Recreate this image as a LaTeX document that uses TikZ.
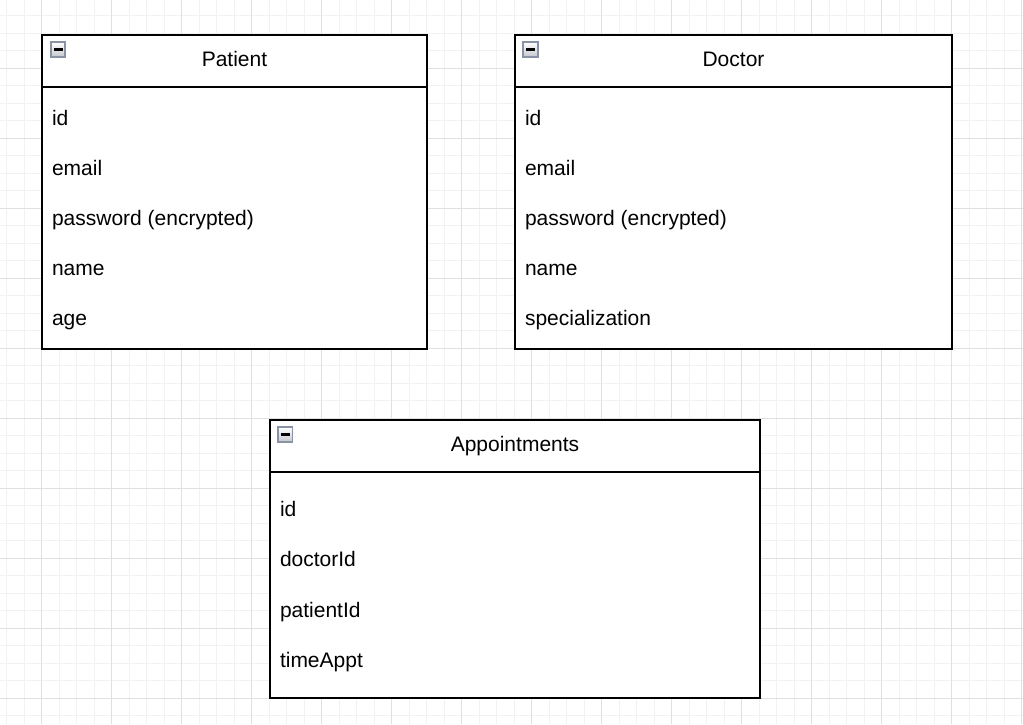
\documentclass[tikz,border=0pt]{standalone}
\usepackage{fontspec}
\setmainfont{Liberation Sans}
\begin{document}
\begin{tikzpicture}[x=1pt,y=-1pt,
  every node/.style={inner sep=0pt, outer sep=0pt},
  boxframe/.style={draw=black, line width=1.6pt, fill=white},
  divline/.style={draw=black, line width=1.6pt},
  title/.style={font=\fontsize{21}{24}\selectfont, anchor=base},
  field/.style={font=\fontsize{21}{24}\selectfont, anchor=base west},
  minorgrid/.style={draw=gridminor, line width=0.9pt},
  majorgrid/.style={draw=gridmajor, line width=0.9pt},
  iconbox/.style={draw=iconborder, line width=1.8pt, top color=white, bottom color=icongray, minimum size=14.5pt},
  iconbar/.style={line width=2.2pt, draw=black}
]
\definecolor{gridminor}{HTML}{F2F2F2}
\definecolor{gridmajor}{HTML}{E0E0E0}
\definecolor{iconborder}{HTML}{8A92A6}
\definecolor{icongray}{HTML}{C4C7CE}
\useasboundingbox (0,0) rectangle (1023,724);
\fill[white] (0,0) rectangle (1023,724);
% grid
\foreach \k in {0,...,58} {
  \draw[minorgrid] ({6.7+17.5*\k},0) -- ({6.7+17.5*\k},724);
}
\foreach \k in {0,...,41} {
  \draw[minorgrid] (0,{15.8+17.5*\k}) -- (1023,{15.8+17.5*\k});
}
\foreach \k in {0,...,14} {
  \draw[majorgrid] ({41.7+70*\k},0) -- ({41.7+70*\k},724);
}
\foreach \k in {0,...,9} {
  \draw[majorgrid] (0,{68.3+70*\k}) -- (1023,{68.3+70*\k});
}

% Patient
\draw[boxframe] (42,35) rectangle (427,349);
\draw[divline] (42,87) -- (427,87);
\node[title] (patientT) at (234.5,66.7) {Patient};
\node[iconbox] (patientI) at (58,49.5) {};
\draw[iconbar] (53.5,49.5) -- (62.5,49.5);
\node[field] (p1) at (52,125) {id};
\node[field] (p2) at (52,175) {email};
\node[field] (p3) at (52,225) {password (encrypted)};
\node[field] (p4) at (52,275.5) {name};
\node[field] (p5) at (52,325) {age};

% Doctor
\draw[boxframe] (515,35) rectangle (952,349);
\draw[divline] (515,87) -- (952,87);
\node[title] (doctorT) at (733.5,66.7) {Doctor};
\node[iconbox] (doctorI) at (530.5,49.5) {};
\draw[iconbar] (526,49.5) -- (535,49.5);
\node[field] (d1) at (525,125) {id};
\node[field] (d2) at (525,175) {email};
\node[field] (d3) at (525,225) {password (encrypted)};
\node[field] (d4) at (525,275.5) {name};
\node[field] (d5) at (525,325) {specialization};

% Appointments
\draw[boxframe] (270,420) rectangle (760,698);
\draw[divline] (270,471.7) -- (760,471.7);
\node[title] (apptT) at (515,451.5) {Appointments};
\node[iconbox] (apptI) at (285.3,434.5) {};
\draw[iconbar] (280.8,434.5) -- (289.8,434.5);
\node[field] (a1) at (280,516.7) {id};
\node[field] (a2) at (280,566.7) {doctorId};
\node[field] (a3) at (280,617.5) {patientId};
\node[field] (a4) at (280,667) {timeAppt};
\end{tikzpicture}
\end{document}
